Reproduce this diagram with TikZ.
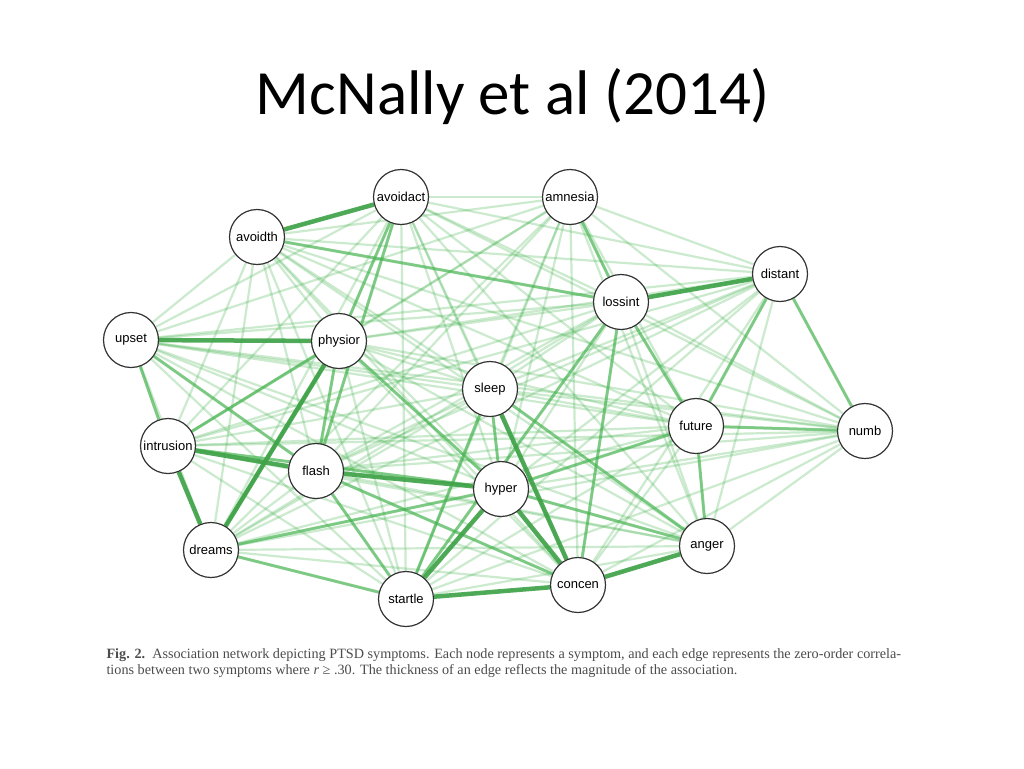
\documentclass[tikz,border=0pt]{standalone}
\usepackage{fontspec}
\setmainfont{Liberation Serif}
\setsansfont{Liberation Sans}
\newfontfamily\titlefont{Carlito}
\usetikzlibrary{backgrounds}
\definecolor{edgegreen}{RGB}{70,180,80}
\tikzset{
  symptom/.style={circle, draw=black!80, line width=1.2pt, fill=white, minimum size=55pt, inner sep=0pt, font=\sffamily\fontsize{13}{13}\selectfont},
  weak/.style={edgegreen, opacity=0.28, line width=2.2pt},
  mid/.style={edgegreen, opacity=0.6, line width=3pt},
  strong/.style={edgegreen!90!black, opacity=0.9, line width=4.5pt},
}
\begin{document}
\begin{tikzpicture}[x=1pt,y=-1pt]
\useasboundingbox (0,0) rectangle (1024,768);
\node[font=\titlefont\fontsize{63}{63}\selectfont] (title) at (513,97) {McNally et al (2014)};
% symptom nodes
\node[symptom] (avoidact) at (401,197) {avoidact};
\node[symptom] (amnesia) at (570,197) {amnesia};
\node[symptom] (avoidth) at (257,237) {avoidth};
\node[symptom] (distant) at (780,274) {distant};
\node[symptom] (lossint) at (621,302) {lossint};
\node[symptom] (upset) at (131,340) {upset};
\node[symptom] (physior) at (339,341) {physior};
\node[symptom] (sleep) at (490,389) {sleep};
\node[symptom] (future) at (696,426) {future};
\node[symptom] (numb) at (865,431) {numb};
\node[symptom] (intrusion) at (168,446) {intrusion};
\node[symptom] (flash) at (316,471) {flash};
\node[symptom] (hyper) at (501,489) {hyper};
\node[symptom] (anger) at (707,546) {anger};
\node[symptom] (dreams) at (211,550) {dreams};
\node[symptom] (concen) at (578,585) {concen};
\node[symptom] (startle) at (406,599) {startle};
% edges
\begin{scope}[on background layer]
\fill[white] (0,0) rectangle (1024,768);
\foreach \a [count=\i] in {avoidact,amnesia,avoidth,distant,lossint,upset,physior,sleep,future,numb,intrusion,flash,hyper,anger,dreams,concen,startle}{
  \foreach \b [count=\j] in {avoidact,amnesia,avoidth,distant,lossint,upset,physior,sleep,future,numb,intrusion,flash,hyper,anger,dreams,concen,startle}{
    \ifnum\j>\i \draw[weak] (\a) -- (\b); \fi
  }
}
\foreach \a/\b in {upset/intrusion,intrusion/physior,upset/flash,physior/dreams,physior/hyper,physior/flash,avoidact/flash,avoidact/physior,
  sleep/hyper,sleep/anger,sleep/startle,lossint/concen,lossint/future,future/anger,future/hyper,hyper/anger,flash/concen,dreams/hyper,
  distant/numb,future/numb,distant/future,lossint/startle,intrusion/hyper,flash/startle,dreams/startle,amnesia/lossint,avoidth/lossint}
  \draw[mid] (\a) -- (\b);
\foreach \a/\b in {avoidth/avoidact,upset/physior,intrusion/dreams,intrusion/flash,flash/hyper,startle/concen,concen/anger,
  startle/hyper,sleep/concen,hyper/concen,lossint/distant,dreams/physior}
  \draw[strong] (\a) -- (\b);
\end{scope}
\node[anchor=north west, align=left, text=black!70, font=\fontsize{14.2}{16}\selectfont] (caption) at (103,645)
  {\textbf{Fig. 2.}\enspace Association network depicting PTSD symptoms. Each node represents a symptom, and each edge represents the zero-order correla-\\
   tions between two symptoms where \textit{r} ≥ .30. The thickness of an edge reflects the magnitude of the association.};
\end{tikzpicture}
\end{document}
